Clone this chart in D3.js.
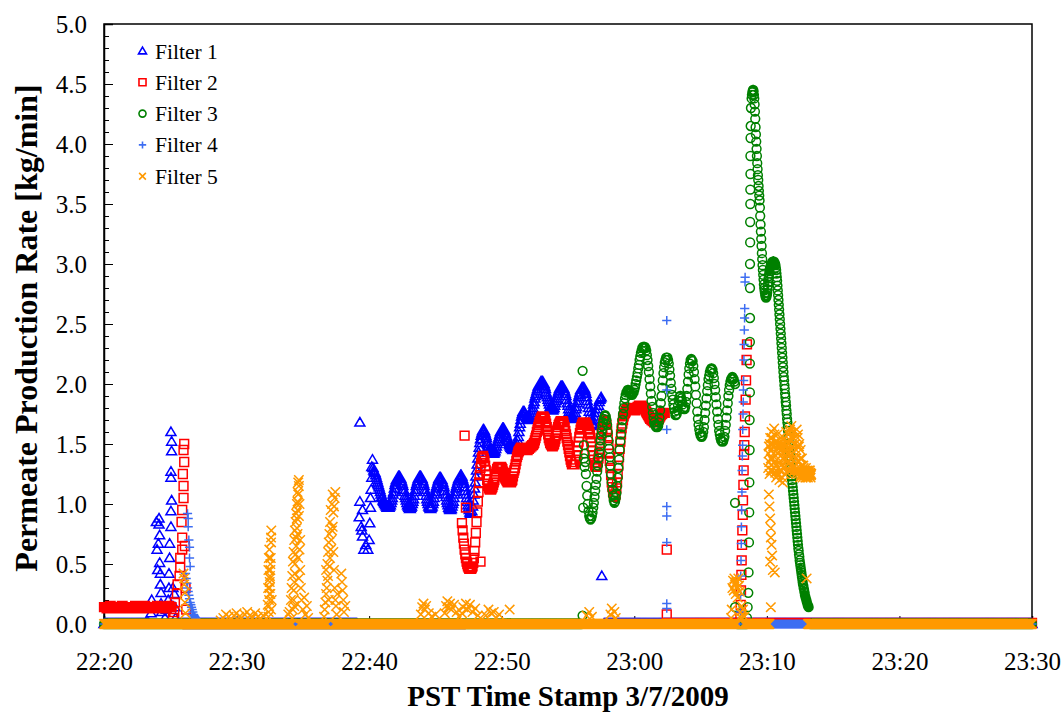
<!DOCTYPE html>
<html>
<head>
<meta charset="utf-8">
<script src="https://cdn.jsdelivr.net/npm/d3@7"></script>
<style>
  html, body { margin: 0; padding: 0; background: #fff; }
  svg { display: block; }
  text { font-family: "Liberation Serif", "Times New Roman", serif; fill: #000; }
</style>
</head>
<body>
<svg id="chart" width="1063" height="713"></svg>
<script>
// ─────────────────────────────────────────────
// Data.
// time  = minutes after 22:20 (PST, 3/7/2009)
// value = permeate production rate, kg/min
// flat runs   : [from, to, level] stretches where the filter sits at a constant reading
// segments    : [start, step, "values in hundredths"]
// points      : single readings [time, value]
// ─────────────────────────────────────────────

const xTickLabels = ["22:20", "22:30", "22:40", "22:50", "23:00", "23:10", "23:20", "23:30"];
const yTicks = [0, 0.5, 1.0, 1.5, 2.0, 2.5, 3.0, 3.5, 4.0, 4.5, 5.0];
const seriesNames = ["Filter 1", "Filter 2", "Filter 3", "Filter 4", "Filter 5"];

// ── Filter 1 ──
const f1Flat = [[0, 3.4, 0], [5.6, 19.1, 0], [37.7, 70, 0]];
const f1Seg = [
  [20.3, 0.05, `130 128 127 126 124 122 120 118 116 114
    112 110 108 106 105 103 102 101 100 99
    98 97 97 97 97 98 99 101 103 105
    108 110 113 116 118 120 121 122 123 123
    123 122 121 119 117 115 112 110 107 105
    103 101 99 98 97 96 96 97 98 100
    102 104 107 110 112 115 117 119 121 122
    123 123 123 122 121 119 117 115 112 110
    107 104 102 100 98 97 96 96 97 98
    100 102 105 108 110 113 115 117 119 121
    122 122 122 121 120 118 116 114 111 108
    106 103 101 99 97 96 95 95 96 98
    100 102 105 108 110 113 115 117 119 121
    122 123 124 124 123 121 119 117 114 111
    108 105 102 99 97 95 93 92 92 94
    98 103 108 113 118 123 128 133 138 143
    147 151 154 157 159 161 162 162 161 159
    157 155 152 150 148 146 145 144 143 142
    142 142 142 143 144 146 148 150 152 154
    156 158 160 161 162 163 163 163 162 161
    159 157 155 153 152 150 149 148 147 146
    146 145 145 145 145 146 148 150 153 156
    160 164 167 170 173 175 177 177 177 176
    175 173 172 171 170 170 171 172 174 176
    178 180 183 185 188 190 192 194 196 198
    199 200 201 202 202 202 202 201 200 198
    196 193 191 189 187 185 183 181 180 179
    178 178 179 180 182 184 186 188 190 192
    194 196 197 198 198 198 198 197 196 194
    192 190 187 184 182 179 177 175 173 172
    171 171 171 172 174 176 179 181 184 186
    189 191 193 195 196 197 197 197 197 196
    194 192 189 186 183 180 177 174 171 169
    167 166 165 165 165 167 170 173 176 179
    182 185 187 188 189`]
];
const f1Pts = [
  [3.55, 0.09], [3.6, 0.2], [3.95, 0.85], [4.0, 0.62], [4.05, 0.45], [4.15, 0.88],
  [4.15, 0.83], [4.2, 0.74], [4.1, 0.67], [4.2, 0.51], [4.25, 0.42], [4.25, 0.33],
  [4.3, 0.26], [4.3, 0.17], [4.35, 0.1], [4.6, 0.05], [4.7, 0.12], [4.85, 0.2],
  [4.9, 0.3], [4.9, 0.42], [4.95, 0.55], [4.95, 0.67], [5.05, 0.81], [5.05, 0.94],
  [5.1, 1.03], [5.05, 1.22], [5.05, 1.27], [5.1, 1.44], [5.1, 1.52], [5.05, 1.6],
  [5.2, 0.3], [5.3, 0.25], [5.35, 0.14], [5.4, 0.05],
  [19.3, 1.68], [19.3, 1.02], [19.25, 0.89], [19.4, 0.81], [19.5, 0.73], [19.6, 0.62],
  [19.75, 0.66], [19.9, 0.62], [20.0, 0.7], [20.05, 0.84], [20.1, 0.97], [20.1, 1.05],
  [20.15, 1.12], [20.2, 1.22], [20.2, 1.31], [20.25, 1.37], [19.5, 0.95], [19.45, 0.78],
  [37.55, 0.4]
];

// ── Filter 2 ──
const f2Flat = [[6.3, 26.9, 0], [42.6, 47.95, 0.01], [48.7, 70, 0.01]];
const f2Seg = [
  [0, 0.05, `14 14 14 14 13 14 14 14 14 15 15 14 14 13 13 14 14 14 14 14
    13 14 14 14 14 14 14 15 15 14 14 14 14 13 13 13 13 14 14 14
    14 14 14 14 13 14 14 15 15 15 14 14 14 14 14 14 13 14 14 14
    14 15 15 14 14 13 13 14 14 14 14 14 14 13 13 14 14 14 14 14
    15 15 14 14 14 14 13 13 14 14 14 14 14 14 13 14 14 15 15 14
    14 14 14`],
  [27.0, 0.05, `84 78 72 67 62 58 55 52 50 48
    47 46 46 46 46 47 48 51 55 61
    68 76 85 93 102 110 118 124 130 134
    138 139 140 138 136 132 128 124 120 117
    115 113 112 112 112 113 114 116 118 120
    123 125 127 129 130 131 131 131 131 131
    130 129 127 126 124 122 121 120 119 118
    118 118 118 118 118 119 120 123 126 128
    130 133 136 139 141 143 144 145 146 147
    147 147 147 147 146 146 145 145 145 145
    146 146 147 147 148 148 149 149 150 151
    153 155 157 160 162 164 166 168 169 171
    172 173 173 173 172 171 169 167 164 161
    158 155 153 151 150 149 148 148 149 150
    152 154 157 160 162 164 166 167 168 169
    169 169 169 168 166 164 161 158 155 152
    149 146 143 140 137 135 133 133 133 133
    133 135 137 140 144 148 152 156 159 162
    164 166 167 168 168 168 168 167 166 165
    163 162 160 158 155 152 148 144 140 137
    134 132 131 131 132 135 138 142 146 151
    155 159 163 166 168 169 170 168 166 161
    155 149 142 136 130 124 118 114 110 108
    106 107 108 113 118 125 132 139 146 152
    158 163 167 170 173 175 176 177 178 179
    179 180 180 180 180 180 179 179 178 178
    178 178 179 180 180 181 181 182 182 182
    182 182 181 181 180 180 179 178 177 176
    175 174 173 172 171 171 170 170 169 169
    168 168 168 168 169 169 170 171 172 173
    174 175 175 176 176 176 176`]
];
const f2Pts = [
  [5.2, 0.05], [5.3, 0.1], [5.35, 0.18], [5.5, 0.25], [5.55, 0.33], [5.7, 0.4],
  [5.75, 0.47], [5.75, 0.55], [5.9, 0.62], [5.9, 0.72], [5.85, 0.85], [5.9, 0.95],
  [6.0, 1.05], [6.0, 1.15], [5.95, 1.25], [6.05, 1.35], [6.0, 1.45], [6.05, 1.5],
  [6.15, 0.3], [6.2, 0.12], [6.1, 0.65],
  [27.2, 1.57], [27.3, 0.97], [28.4, 0.52], [42.45, 0.62], [42.45, 0.08],
  [48.0, 0.06], [48.03, 0.16], [48.05, 0.28], [48.08, 0.41], [48.1, 0.53], [48.13, 0.66],
  [48.15, 0.78], [48.18, 0.91], [48.2, 1.03], [48.23, 1.16], [48.25, 1.28], [48.28, 1.41],
  [48.3, 1.49], [48.33, 1.6], [48.35, 1.73], [48.4, 1.87], [48.43, 2.03], [48.47, 2.2],
  [48.5, 2.33]
];

// ── Filter 3 ──
const f3Flat = [[0, 36.0, 0], [47.8, 48.45, 0], [53.3, 70, 0]];
const f3Seg = [
  [36.2, 0.05, `149 142 135 125 115 107 100 94 90 88
    87 88 90 93 97 101 106 111 116 121
    127 132 138 143 148 153 157 161 165 168
    171 173 174 173 170 166 160 153 146 139
    132 125 118 112 107 103 101 102 105 109
    115 122 130 137 145 152 158 164 170 175
    180 184 188 191 193 194 195 195 194 193
    192 191 191 191 192 193 195 197 200 203
    206 209 213 216 220 223 226 228 230 231
    231 231 231 230 228 224 220 215 210 204
    198 192 186 181 176 172 168 166 165 164
    164 164 165 168 172 178 184 190 197 203
    209 214 218 220 222 222 222 220 217 212
    207 201 196 191 187 183 180 177 174 174
    175 178 182 186 189 190 190 188 186 183
    180 179 179 181 185 190 196 202 208 213
    217 220 221 220 219 215 210 204 198 191
    184 177 171 166 162 159 157 156 156 157
    160 164 170 176 182 188 194 199 204 207
    210 212 213 213 212 209 205 200 195 189
    183 177 171 166 161 158 155 153 152 152
    152 154 156 161 166 172 178 184 190 195
    199 202 204 205 206 205 204 202 200`],
  [48.85, 0.025, `438 441 443 444 445 445 444 441 438 433
    427 421 414 408 402 396 390 384 379 374
    370 365 361 357 353 347 340 333 327 321
    315 309 304 299 295 291 287 283 280 278
    276 274 273 272 272 273 274`],
  [50.025, 0.025, `276 279 282 285 288 290 292 294 296 297
    298 299 300 300 301 301 302 302 302 302
    302 302 301 301 300 299 297 295 292 289
    286 282 278 274 270 266 262 258 254 250
    246 242 238 234 230 226 222 218 214 210
    206 203 199 196 192 189 185 182 178 175
    171 168 164 161 157 154 150 147 143 140
    136 133 129 126 123 120 117 114 111 108
    105 102 99 96 93 90 87 84 81 78
    75 72 69 66 63 61 58 56 53 51
    49 47 45 43 41 39 37 35 33 32
    30 29 27 26 24 23 22 21 20 19
    18 17 16 15 15 14`]
];
const f3Pts = [
  [36.1, 2.11], [36.1, 0.07], [36.2, 1.38], [36.25, 1.31], [36.15, 0.97],
  [47.6, 1.01], [47.6, 0.14],
  [48.5, 0.05], [48.55, 0.14], [48.6, 0.26], [48.62, 0.43], [48.65, 0.68], [48.67, 0.93],
  [48.68, 1.18], [48.7, 1.45], [48.7, 1.7], [48.72, 1.93], [48.72, 2.17], [48.72, 2.35],
  [48.73, 2.55], [48.73, 2.8], [48.73, 3.0], [48.74, 3.18], [48.74, 3.35], [48.75, 3.5],
  [48.75, 3.62], [48.76, 3.75], [48.76, 3.9], [48.77, 4.05], [48.78, 4.15], [48.8, 4.3]
];

// ── Filter 4 ──
const f4Flat = [[0, 6.0, 0], [7.2, 42.3, 0], [42.6, 47.95, 0], [48.45, 70, 0]];
const f4Seg = [
  [6.15, 0.05, `42 38 34 30 27 24 21 18 16 14 12 10 8 7 6 5 4 3 2 2`]
];
const f4Pts = [
  [6.3, 0.92], [6.35, 0.88], [6.35, 0.81], [6.4, 0.7], [6.45, 0.64], [6.45, 0.55], [6.5, 0.48],
  [42.45, 2.53], [42.45, 1.95], [42.45, 1.62], [42.45, 0.98], [42.45, 0.9], [42.45, 0.68],
  [42.45, 0.17], [42.45, 0.13],
  [48.0, 0.1], [48.02, 0.24], [48.03, 0.4], [48.05, 0.53], [48.07, 0.67], [48.08, 0.81],
  [48.1, 0.95], [48.12, 1.1], [48.13, 1.28], [48.15, 1.4], [48.17, 1.49], [48.18, 1.62],
  [48.2, 1.75], [48.22, 1.85], [48.23, 1.95], [48.25, 2.03], [48.27, 2.2], [48.28, 2.33],
  [48.3, 2.45], [48.32, 2.55], [48.33, 2.63], [48.35, 2.85], [48.36, 2.89]
];

// ── Filter 5 ──
const f5Flat = [[0, 14.2, 0], [14.7, 16.85, 0], [17.35, 47.75, 0], [48.25, 50.2, 0], [53.1, 70, 0]];
const f5Seg = [
  [8.8, 0.2, `3 5 8 6 4 7 9 6 5 8 10 7 5 9 6 4 7`],
  [50.1, 0.05, `130 148 125 155 138 160 128 150 142 163
    135 152 122 145 158 130 150 120 140 155
    128 146 118 138 150 125 145 160 135 152
    128 158 140 162 132 165 145 155 130 160
    140 150 125 162 128 158 125 150 122 145
    125 138 122 132 125 128 122 130 125 127
    122 126 124 128 122 125`],
  [50.125, 0.05, `142 135 150 128 145 155 138 148 130 158
    126 140 132 152 124 148 135 128 145 132
    150 122 142 155 130 148 138 152 126 143
    150 135 160 128 152 142 148 136 155 128
    150 138 145 130 155 135 148 128 138 124
    132 128 126 130 124 128 126 122 128 124
    126 128 123 126 124`]
];
const f5Pts = [
  [6.0, 0.42], [6.05, 0.38], [6.05, 0.33], [6.1, 0.26], [6.1, 0.18], [6.15, 0.09],
  [12.4, 0.06], [12.42, 0.1], [12.45, 0.15], [12.45, 0.2], [12.48, 0.25], [12.5, 0.3],
  [12.5, 0.35], [12.52, 0.4], [12.55, 0.45], [12.55, 0.5], [12.58, 0.55], [12.6, 0.68],
  [12.6, 0.72], [12.62, 0.78], [12.38, 0.3], [12.4, 0.45], [12.43, 0.55], [12.47, 0.62],
  [12.52, 0.38], [12.55, 0.25], [12.6, 0.12], [12.65, 0.2], [12.35, 0.16],
  [13.9, 0.08], [14.0, 0.1], [14.1, 0.2], [14.2, 0.05], [14.25, 0.12], [14.3, 0.2],
  [14.3, 0.28], [14.35, 0.35], [14.4, 0.42], [14.4, 0.5], [14.45, 0.58], [14.5, 0.65],
  [14.5, 0.72], [14.55, 0.8], [14.55, 0.88], [14.6, 0.95], [14.6, 1.02], [14.65, 1.08],
  [14.7, 1.15], [14.7, 1.2], [14.75, 0.62], [14.8, 0.45], [14.85, 0.3], [14.9, 0.2],
  [15.0, 0.12], [15.1, 0.22], [15.2, 0.08], [15.3, 0.15], [15.4, 0.05],
  [14.15, 0.3], [14.2, 0.4], [14.25, 0.52], [14.3, 0.6], [14.35, 0.7], [14.4, 0.78],
  [14.45, 0.85], [14.5, 0.92], [14.55, 1.0], [14.6, 1.1], [14.65, 1.18], [14.6, 0.75],
  [14.65, 0.55], [14.7, 0.38], [14.7, 0.9], [14.75, 1.0], [14.8, 0.7], [14.35, 0.15],
  [16.6, 0.06], [16.65, 0.12], [16.7, 0.18], [16.75, 0.25], [16.8, 0.3], [16.85, 0.36],
  [16.9, 0.4], [16.95, 0.2], [17.0, 0.48], [17.05, 0.55], [17.1, 0.62], [17.15, 0.7],
  [17.2, 0.78], [17.25, 0.81], [17.3, 0.93], [17.35, 0.98], [17.4, 1.05], [17.45, 1.1],
  [17.5, 0.15], [17.55, 0.08], [17.9, 0.42], [17.95, 0.35], [18.0, 0.28], [18.05, 0.2],
  [18.1, 0.1], [18.2, 0.15],
  [16.85, 0.5], [16.9, 0.6], [16.95, 0.68], [17.0, 0.75], [17.05, 0.85], [17.1, 0.95],
  [17.2, 1.0], [17.25, 1.08], [17.3, 0.6], [17.35, 0.45], [17.4, 0.3], [17.45, 0.2],
  [16.75, 0.45], [17.6, 0.25],
  [23.9, 0.08], [24.0, 0.14], [24.1, 0.17], [24.2, 0.12], [24.3, 0.15], [24.5, 0.09],
  [24.7, 0.06], [25.0, 0.08], [25.7, 0.09], [25.8, 0.15], [25.9, 0.19], [26.0, 0.14],
  [26.1, 0.17], [26.2, 0.12], [26.4, 0.16], [26.6, 0.1], [26.8, 0.06], [27.0, 0.09],
  [27.1, 0.14], [27.3, 0.17], [27.4, 0.12], [27.6, 0.16], [27.8, 0.1], [28.0, 0.13],
  [28.2, 0.07], [28.4, 0.05], [28.8, 0.07], [29.0, 0.12], [29.2, 0.09], [29.4, 0.1],
  [29.6, 0.05], [29.8, 0.08], [30.6, 0.12], [36.4, 0.07], [36.6, 0.1], [36.8, 0.06],
  [38.2, 0.08], [38.3, 0.13], [38.5, 0.1], [38.6, 0.05],
  [47.3, 0.05], [47.35, 0.12], [47.4, 0.3], [47.45, 0.36], [47.5, 0.28], [47.55, 0.38],
  [47.6, 0.33], [47.65, 0.25], [47.7, 0.35], [47.75, 0.3], [47.8, 0.22], [47.85, 0.38],
  [47.9, 0.32], [47.95, 0.27], [48.0, 0.1], [48.05, 0.05], [48.1, 0.15], [48.15, 0.08],
  [48.2, 0.12], [48.3, 0.06],
  [50.15, 1.08], [50.2, 0.98], [50.25, 0.88], [50.3, 0.8], [50.3, 0.72], [50.35, 0.66],
  [50.4, 0.57], [50.45, 0.45], [50.25, 0.52], [50.3, 0.14], [50.6, 0.43], [53.0, 0.38]
];

// ── Layout ──
const width = 1063, height = 713;
const margin = { left: 104, right: 31, top: 24, bottom: 89 };
const FLAT_STEP = 0.025; // spacing of the readings along the flat runs, minutes

const svg = d3.select("#chart");
const x = d3.scaleLinear().domain([0, 70]).range([margin.left, width - margin.right]);
const y = d3.scaleLinear().domain([0, 5]).range([height - margin.bottom, margin.top]);

// minutes after 22:20 for each "HH:MM" tick label
const xTickValues = xTickLabels.map(s => {
  const [h, m] = s.split(":").map(Number);
  return h * 60 + m - (22 * 60 + 20);
});

// ── Frame ──
svg.append("rect")
  .attr("x", x(0)).attr("y", y(5))
  .attr("width", x(70) - x(0)).attr("height", y(0) - y(5))
  .attr("fill", "none").attr("stroke", "#000").attr("stroke-width", 1.5);

// ── Y axis (ticks point inward) ──
const yAxis = svg.append("g")
  .attr("transform", `translate(${x(0)},0)`)
  .call(d3.axisLeft(y).tickValues(yTicks).tickFormat(d3.format(".1f"))
    .tickSize(-9).tickPadding(17));
yAxis.attr("font-family", null).attr("font-size", null);
yAxis.select(".domain").attr("stroke-width", 1.5);
yAxis.selectAll("text").style("font-size", "25px");

svg.append("g")
  .attr("transform", `translate(${x(0)},0)`)
  .call(d3.axisLeft(y).tickValues(d3.range(0, 51).map(i => i / 10)).tickFormat("").tickSize(-5))
  .call(g => g.select(".domain").remove());

// ── X axis ──
const xAxis = svg.append("g")
  .attr("transform", `translate(0,${y(0)})`)
  .call(d3.axisBottom(x).tickValues(xTickValues).tickFormat((d, i) => xTickLabels[i])
    .tickSize(-8).tickPadding(28));
xAxis.attr("font-family", null).attr("font-size", null);
xAxis.select(".domain").attr("stroke-width", 1.5);
xAxis.selectAll("text").style("font-size", "25px");

// ── Axis titles ──
svg.append("text")
  .attr("x", (x(0) + x(70)) / 2).attr("y", 706)
  .attr("text-anchor", "middle")
  .style("font-size", "29px").style("font-weight", "bold")
  .text("PST Time Stamp 3/7/2009");

svg.append("text")
  .attr("transform", `translate(37,${(y(0) + y(5)) / 2 + 4}) rotate(-90)`)
  .attr("text-anchor", "middle")
  .style("font-size", "32px").style("font-weight", "bold")
  .text("Permeate Production Rate [kg/min]");

// ── Markers: every series is one path holding all of its open markers ──
function addMarker(p, shape, cx, cy, k = 1) {
  if (shape === "triangle") {
    p.moveTo(cx, cy - 4.9 * k); p.lineTo(cx + 5 * k, cy + 3.6 * k); p.lineTo(cx - 5 * k, cy + 3.6 * k); p.closePath();
  } else if (shape === "square") {
    p.rect(cx - 4.4 * k, cy - 4.4 * k, 8.8 * k, 8.8 * k);
  } else if (shape === "circle") {
    p.moveTo(cx + 4.4 * k, cy); p.arc(cx, cy, 4.4 * k, 0, 2 * Math.PI);
  } else if (shape === "plus") {
    p.moveTo(cx - 4.6 * k, cy); p.lineTo(cx + 4.6 * k, cy);
    p.moveTo(cx, cy - 4.4 * k); p.lineTo(cx, cy + 4.4 * k);
  } else {
    p.moveTo(cx - 4.2 * k, cy - 4.2 * k); p.lineTo(cx + 4.2 * k, cy + 4.2 * k);
    p.moveTo(cx - 4.2 * k, cy + 4.2 * k); p.lineTo(cx + 4.2 * k, cy - 4.2 * k);
  }
}

const series = [
  { name: seriesNames[0], color: "#0000ff", shape: "triangle", flat: f1Flat, seg: f1Seg, pts: f1Pts },
  { name: seriesNames[1], color: "#ff0000", shape: "square", flat: f2Flat, seg: f2Seg, pts: f2Pts },
  { name: seriesNames[2], color: "#008000", shape: "circle", flat: f3Flat, seg: f3Seg, pts: f3Pts },
  { name: seriesNames[3], color: "#3d6df2", shape: "plus", flat: f4Flat, seg: f4Seg, pts: f4Pts },
  { name: seriesNames[4], color: "#ff9900", shape: "cross", flat: f5Flat, seg: f5Seg, pts: f5Pts }
];

function expand(s) {
  const out = [];
  s.flat.forEach(([a, b, level]) => {
    const n = Math.round((b - a) / FLAT_STEP);
    for (let i = 0; i <= n; i++) out.push([a + i * FLAT_STEP, level]);
  });
  s.seg.forEach(([t0, dt, vals]) => {
    vals.trim().split(/\s+/).forEach((v, i) => out.push([t0 + i * dt, +v / 100]));
  });
  s.pts.forEach(p => out.push(p));
  return out;
}

series.forEach(s => {
  const p = d3.path();
  expand(s).forEach(d => addMarker(p, s.shape, x(d[0]), y(d[1])));
  svg.append("path")
    .attr("d", p.toString())
    .attr("fill", "none").attr("stroke", s.color).attr("stroke-width", 1.5)
    .attr("stroke-linecap", s.shape === "cross" ? "square" : "butt");
});

// ── Legend ──
const legend = svg.append("g").attr("transform", "translate(142.5,51)");
series.forEach((s, i) => {
  const row = legend.append("g").attr("transform", `translate(0,${i * 31.3})`);
  const p = d3.path();
  addMarker(p, s.shape, 0, 0, 0.8);
  row.append("path")
    .attr("d", p.toString())
    .attr("fill", "none").attr("stroke", s.color).attr("stroke-width", 1.6);
  row.append("text")
    .attr("x", 12.5).attr("y", 7.5)
    .style("font-size", "21.5px")
    .text(s.name);
});
</script>
</body>
</html>
